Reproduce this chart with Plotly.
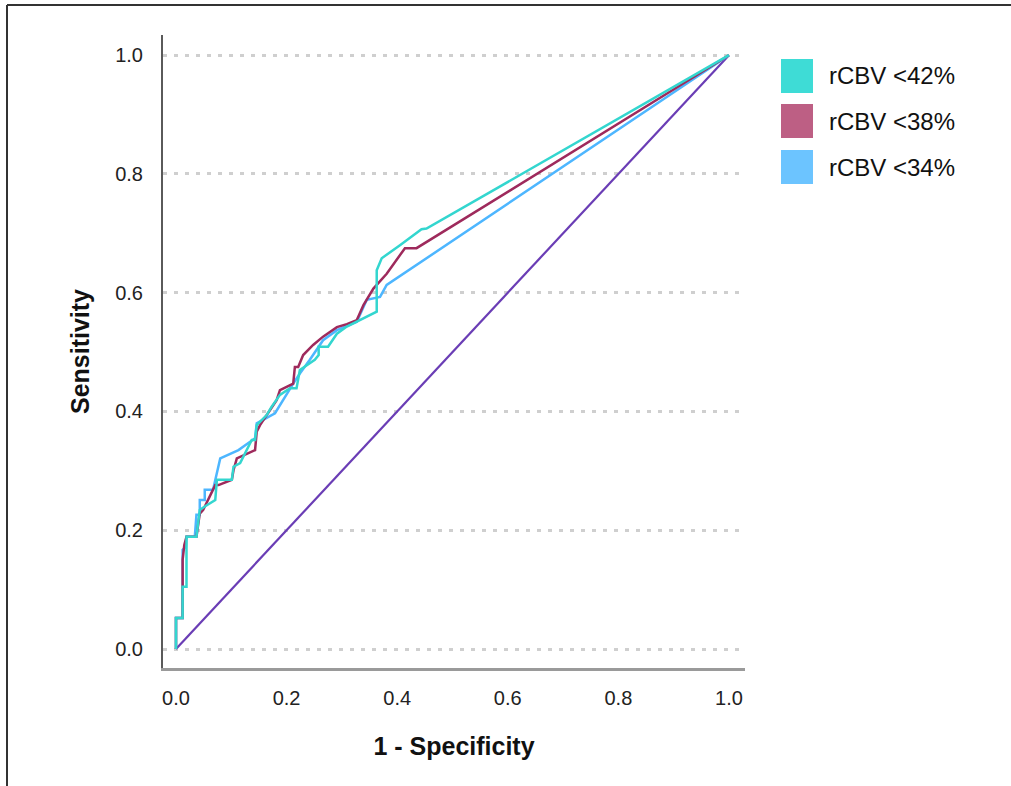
import plotly.graph_objects as go

# ---------------- data ----------------
series_names = ["rCBV <42%", "rCBV <38%", "rCBV <34%"]

fpr_42 = [0, 0, 0.012, 0.012, 0.019, 0.019, 0.037, 0.043, 0.052, 0.071, 0.074, 0.101, 0.104, 0.116,
          0.137, 0.143, 0.146, 0.164, 0.173, 0.188, 0.206, 0.218, 0.224, 0.236, 0.251, 0.258, 0.258,
          0.275, 0.291, 0.309, 0.327, 0.363, 0.363, 0.372, 0.405, 0.429, 0.444, 0.453, 1.0]
tpr_42 = [0, 0.052, 0.052, 0.105, 0.105, 0.189, 0.189, 0.234, 0.240, 0.251, 0.285, 0.285, 0.307, 0.313,
          0.352, 0.352, 0.377, 0.394, 0.408, 0.428, 0.439, 0.439, 0.470, 0.478, 0.487, 0.495, 0.509,
          0.509, 0.531, 0.543, 0.551, 0.568, 0.638, 0.658, 0.680, 0.697, 0.707, 0.708, 1.0]

fpr_38 = [0, 0, 0.012, 0.012, 0.015, 0.019, 0.037, 0.043, 0.049, 0.071, 0.077, 0.101, 0.104, 0.110,
          0.143, 0.146, 0.152, 0.182, 0.188, 0.212, 0.215, 0.221, 0.230, 0.248, 0.266, 0.291, 0.309,
          0.327, 0.339, 0.357, 0.381, 0.414, 0.435, 1.0]
tpr_38 = [0, 0.052, 0.052, 0.150, 0.175, 0.189, 0.189, 0.228, 0.234, 0.276, 0.276, 0.285, 0.301, 0.321,
          0.335, 0.366, 0.377, 0.419, 0.436, 0.447, 0.475, 0.475, 0.495, 0.512, 0.526, 0.542, 0.547,
          0.554, 0.579, 0.607, 0.632, 0.675, 0.675, 1.0]

fpr_34 = [0, 0, 0.012, 0.012, 0.018, 0.019, 0.034, 0.037, 0.043, 0.043, 0.052, 0.052, 0.067, 0.080,
          0.113, 0.143, 0.146, 0.179, 0.212, 0.224, 0.242, 0.266, 0.291, 0.327, 0.345, 0.369, 0.381, 1.0]
tpr_34 = [0, 0.052, 0.052, 0.167, 0.172, 0.189, 0.189, 0.226, 0.226, 0.251, 0.251, 0.268, 0.268, 0.321,
          0.335, 0.355, 0.380, 0.397, 0.447, 0.464, 0.487, 0.520, 0.537, 0.551, 0.588, 0.593, 0.613, 1.0]

ref_x = [0, 1]
ref_y = [0, 1]

tick_vals = [0.0, 0.2, 0.4, 0.6, 0.8, 1.0]
tick_text = ["0.0", "0.2", "0.4", "0.6", "0.8", "1.0"]

line_colors = ["#33D6CF", "#9E2A5C", "#4DB6FF"]
legend_colors = ["#3EDCD6", "#BD5F84", "#6CC4FF"]
ref_color = "#6A3DB5"

# ---------------- layout geometry (pixels) ----------------
W, H = 1011, 786
PL, PR, PT, PB = 163, 745, 35, 668   # plot area box


def px_to_paper_x(px):
    return (px - PL) / (PR - PL)


def px_to_paper_y(py):
    return (PB - py) / (PB - PT)


FONT = "Liberation Sans, Arial, sans-serif"

fig = go.Figure()
fig.add_trace(go.Scatter(x=ref_x, y=ref_y, mode="lines",
                         line=dict(color=ref_color, width=2.2), showlegend=False, hoverinfo="skip"))
for xs, ys, c, n in [(fpr_34, tpr_34, line_colors[2], series_names[2]),
                     (fpr_38, tpr_38, line_colors[1], series_names[1]),
                     (fpr_42, tpr_42, line_colors[0], series_names[0])]:
    fig.add_trace(go.Scatter(x=xs, y=ys, mode="lines", name=n,
                             line=dict(color=c, width=2.5), showlegend=False))

shapes = []
annotations = []
# outer frame (top and left edges)
shapes.append(dict(type="line", xref="paper", yref="paper",
                   x0=px_to_paper_x(7), x1=px_to_paper_x(W + 5),
                   y0=px_to_paper_y(5), y1=px_to_paper_y(5),
                   line=dict(color="#333333", width=2)))
shapes.append(dict(type="line", xref="paper", yref="paper",
                   x0=px_to_paper_x(7), x1=px_to_paper_x(7),
                   y0=px_to_paper_y(5), y1=px_to_paper_y(H + 5),
                   line=dict(color="#333333", width=2)))

# legend (manual swatches)
row_tops = [59, 104, 150]
for i, name in enumerate(series_names):
    t = row_tops[i]
    shapes.append(dict(type="rect", xref="paper", yref="paper",
                       x0=px_to_paper_x(781), x1=px_to_paper_x(813),
                       y0=px_to_paper_y(t + 34), y1=px_to_paper_y(t),
                       fillcolor=legend_colors[i], line=dict(width=0)))
    annotations.append(dict(xref="paper", yref="paper",
                            x=px_to_paper_x(827), y=px_to_paper_y(t + 17),
                            xanchor="left", yanchor="middle", showarrow=False,
                            text=name, font=dict(family=FONT, size=24, color="#111111")))

fig.update_layout(
    width=W, height=H,
    margin=dict(l=PL, r=W - PR, t=PT, b=H - PB, autoexpand=False),
    paper_bgcolor="white", plot_bgcolor="white",
    shapes=shapes, annotations=annotations,
    showlegend=False,
    font=dict(family=FONT, color="#222222"),
)

fig.update_xaxes(
    range=[-0.0235, 1.029], tickvals=tick_vals, ticktext=tick_text,
    showgrid=False, zeroline=False,
    showline=True, linecolor="#9A9A9A", linewidth=3,
    ticks="", ticklabelstandoff=10,
    tickfont=dict(family=FONT, size=20, color="#222222"),
    title=dict(text="<b>1 - Specificity</b>", font=dict(family=FONT, size=25, color="#111111"),
               standoff=30),
    automargin=False,
)
fig.update_yaxes(
    range=[-0.032, 1.034], tickvals=tick_vals, ticktext=tick_text,
    showgrid=True, gridcolor="#CFCFCF", gridwidth=3, griddash="4px,7px",
    zeroline=False,
    showline=True, linecolor="#5A5A5A", linewidth=2,
    ticks="", ticklabelstandoff=14,
    tickfont=dict(family=FONT, size=20, color="#222222"),
    title=dict(text="<b>Sensitivity</b>", font=dict(family=FONT, size=25, color="#111111"),
               standoff=18),
    automargin=False,
)

fig.write_html("out.html", config={"displayModeBar": False},
               post_script="document.body.style.margin='0';")
